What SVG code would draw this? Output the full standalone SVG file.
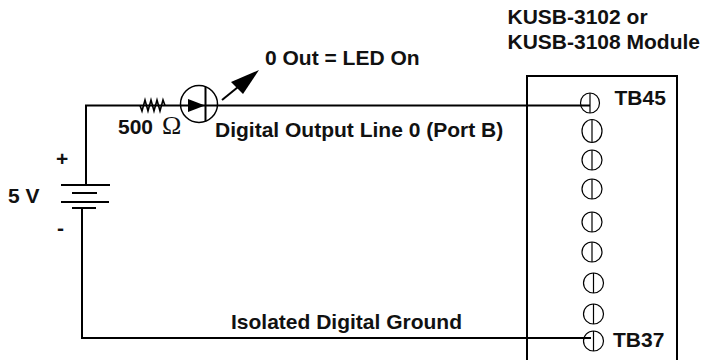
<svg xmlns="http://www.w3.org/2000/svg" width="704" height="360" viewBox="0 0 704 360">
<style>
text{font-family:"Liberation Sans",Arial,sans-serif;font-weight:700;font-size:21px;fill:#111}
.w{fill:none;stroke:#000;stroke-width:2}
.s{fill:none;stroke:#000;stroke-width:1.2}
</style>
<rect width="704" height="360" fill="#fff"/>
<g id="connectors">
<path class="w" d="M590 105.500H218M180 105.500H86V185"/>
<path class="w" d="M82 208V338H591"/>
<path class="w" d="M222 100L238 87" stroke-width="1.500"/>
<polygon points="259,70 231,82 243,94" fill="#000"/>
</g>
<g id="battery">
<path class="w" d="M61 185H110M72 193H97M61 202H109M72 208H96"/>
<text x="56" y="166">+</text>
<text x="8" y="203">5 V</text>
<text x="57" y="235">-</text>
</g>
<g id="resistor">
<path fill="none" stroke="#000" stroke-width="1.6" d="M140 105.500L142 111L145 100L148 111L151 100L154 111L157 100L160 111L163 100L165 105.500"/>
<text x="118" y="134">500</text>
<text x="162" y="134" style="font-family:'Liberation Serif',serif;font-weight:400;font-size:26px">Ω</text>
</g>
<g id="led">
<circle cx="199" cy="104" r="18.500" fill="#fff" stroke="#000" stroke-width="1.500"/>
<path class="w" d="M180 105.500H218M205.500 87V121"/>
<polygon points="188,99 205,105.500 188,112" fill="#000"/>
</g>
<g id="labels">
<text x="265" y="65">0 Out = LED On</text>
<text x="215" y="137">Digital Output Line 0 (Port B)</text>
<text x="231" y="329">Isolated Digital Ground</text>
<text x="507.500" y="24">KUSB-3102 or</text>
<text x="507.500" y="49">KUSB-3108 Module</text>
</g>
<g id="module">
<path class="w" d="M527 360V76H677V360"/>
</g>
<g id="terminals">
<g id="tb45"><ellipse class="s" cx="590" cy="103" rx="9.500" ry="10"/><path class="s" d="M590 93V113"/><text x="614.500" y="105">TB45</text></g>
<g id="t44"><ellipse class="s" cx="592" cy="131" rx="10" ry="11.500"/><path class="s" d="M592 120V142"/></g>
<g id="t43"><ellipse class="s" cx="592" cy="160" rx="10" ry="10"/><path class="s" d="M592 150V170"/></g>
<g id="t42"><ellipse class="s" cx="592" cy="189" rx="10" ry="10"/><path class="s" d="M592 179V199"/></g>
<g id="t41"><ellipse class="s" cx="592" cy="222" rx="10" ry="10"/><path class="s" d="M592 212V232"/></g>
<g id="t40"><ellipse class="s" cx="592" cy="252" rx="10" ry="10"/><path class="s" d="M592 242V262"/></g>
<g id="t39"><ellipse class="s" cx="593.500" cy="283" rx="10" ry="10"/><path class="s" d="M593.500 273V293"/></g>
<g id="t38"><ellipse class="s" cx="593.500" cy="314" rx="10" ry="10"/><path class="s" d="M593.500 304V324"/></g>
<g id="tb37"><ellipse class="s" cx="593.500" cy="341" rx="10" ry="10"/><path class="s" d="M593.500 331V351"/><text x="613" y="347">TB37</text></g>
</g>
</svg>
